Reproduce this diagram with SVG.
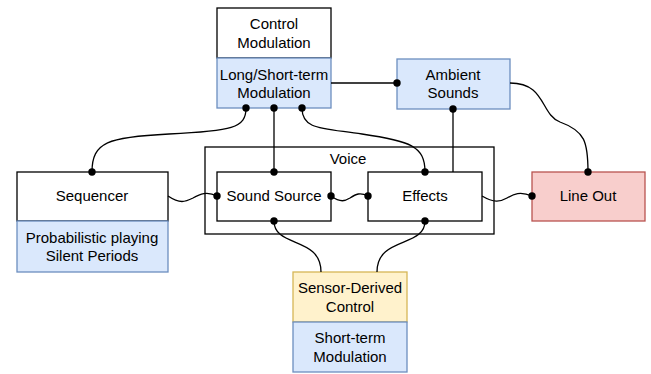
<svg xmlns="http://www.w3.org/2000/svg" width="651" height="374" viewBox="0 0 651 374">
  <style>
    .box { stroke-width: 1.3; }
    .plain { fill: #ffffff; stroke: #000000; }
    .blue { fill: #dae8fc; stroke: #6c8ebf; }
    .yellow { fill: #fff2cc; stroke: #d6b656; }
    .red { fill: #f8cecc; stroke: #b85450; }
    .container { fill: none; stroke: #000000; stroke-width: 1.3; }
    text { font-family: "Liberation Sans", Arial, sans-serif; font-size: 15px; fill: #000000; text-anchor: middle; }
    .edge { fill: none; stroke: #000000; stroke-width: 1.3; }
    .dot { fill: #000000; }
  </style>

  <!-- Voice container -->
  <g id="voice">
    <rect class="container" x="205" y="147" width="289" height="87"/>
    <text x="348" y="164">Voice</text>
  </g>

  <g id="control-modulation">
    <rect class="box plain" x="217" y="8" width="114" height="50"/>
    <text x="274" y="29">Control</text>
    <text x="274" y="48">Modulation</text>
    <rect class="box blue" x="217" y="58" width="114" height="50"/>
    <text x="274" y="80">Long/Short-term</text>
    <text x="274" y="98">Modulation</text>
  </g>

  <g id="ambient-sounds">
    <rect class="box blue" x="397" y="59" width="113" height="50"/>
    <text x="453" y="80">Ambient</text>
    <text x="453" y="98">Sounds</text>
  </g>

  <g id="sequencer">
    <rect class="box plain" x="17" y="172" width="151" height="49"/>
    <text x="92" y="201">Sequencer</text>
    <rect class="box blue" x="17" y="221" width="151" height="51"/>
    <text x="92" y="243">Probabilistic playing</text>
    <text x="92" y="261">Silent Periods</text>
  </g>

  <g id="sound-source">
    <rect class="box plain" x="217" y="172" width="114" height="49"/>
    <text x="274" y="201">Sound Source</text>
  </g>

  <g id="effects">
    <rect class="box plain" x="368" y="172" width="114" height="49"/>
    <text x="425" y="201">Effects</text>
  </g>

  <g id="line-out">
    <rect class="box red" x="532" y="172" width="113" height="49"/>
    <text x="588" y="201">Line Out</text>
  </g>

  <g id="sensor-control">
    <rect class="box yellow" x="293" y="272" width="114" height="50"/>
    <text x="350" y="293">Sensor-Derived</text>
    <text x="350" y="312">Control</text>
    <rect class="box blue" x="293" y="322" width="114" height="50"/>
    <text x="350" y="343">Short-term</text>
    <text x="350" y="362">Modulation</text>
  </g>

  <!-- Connectors -->
  <g id="connectors">
    <path class="edge" d="M246,108 C246,128 232,131 169,134 C108,137 92,142 92,172"/>
    <path class="edge" d="M274,108 L274,172"/>
    <path class="edge" d="M302,108 C302,130 322,128 362,134 C410,141 425,146 425,172"/>
    <path class="edge" d="M453,109 L453,172"/>
    <path class="edge" d="M331,83 L397,83"/>
    <path class="edge" d="M510,83 C546,83 540,114 560,122 C585,131 588,142 588,172"/>
    <path class="edge" d="M168,196 C180,204 185,202 193,198 C200,194 207,191 217,196"/>
    <path class="edge" d="M331,196 C341,203 345,201 350,198 C356,194 360,192 368,196"/>
    <path class="edge" d="M482,196 C494,203 500,202 507,198 C514,194 520,191 532,196"/>
    <path class="edge" d="M274,221 C274,248 321,236 321,272"/>
    <path class="edge" d="M425,221 C425,248 377,236 377,272"/>

    <circle class="dot" cx="246" cy="108" r="3.7"/>
    <circle class="dot" cx="92" cy="172" r="3.7"/>
    <circle class="dot" cx="274" cy="108" r="3.7"/>
    <circle class="dot" cx="274" cy="172" r="3.7"/>
    <circle class="dot" cx="302" cy="108" r="3.7"/>
    <circle class="dot" cx="425" cy="172" r="3.7"/>
    <circle class="dot" cx="453" cy="109" r="3.7"/>
    <circle class="dot" cx="397" cy="83" r="3.7"/>
    <circle class="dot" cx="588" cy="172" r="3.7"/>
    <circle class="dot" cx="217" cy="196" r="3.7"/>
    <circle class="dot" cx="331" cy="196" r="3.7"/>
    <circle class="dot" cx="368" cy="196" r="3.7"/>
    <circle class="dot" cx="532" cy="196" r="3.7"/>
    <circle class="dot" cx="274" cy="221" r="3.7"/>
    <circle class="dot" cx="425" cy="221" r="3.7"/>
  </g>
</svg>
